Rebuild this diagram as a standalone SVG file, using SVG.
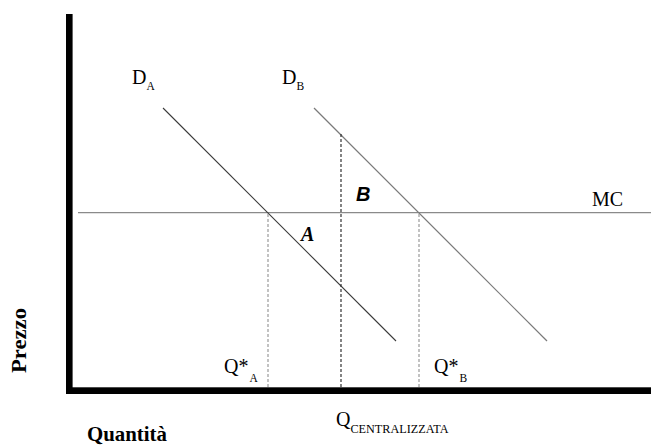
<svg xmlns="http://www.w3.org/2000/svg" width="651" height="446" viewBox="0 0 651 446">
<style>
.axis{fill:#000}
.mc{stroke:#8a8a8a;stroke-width:1.2;fill:none}
.dA{stroke:#3a3a3a;stroke-width:1.1;fill:none}
.dB{stroke:#7a7a7a;stroke-width:1.2;fill:none}
.dashL{stroke:#9a9a9a;stroke-width:1.2;stroke-dasharray:3,2;fill:none}
.dashD{stroke:#333;stroke-width:1.2;stroke-dasharray:3,2;fill:none}
.t{font-family:"Liberation Serif",serif;fill:#000}
.lab{font-size:20px}
.sub{font-size:11.5px}
.bold{font-weight:bold}
</style>
<g id="axes">
<rect class="axis" x="66" y="14" width="6.6" height="380"/>
<rect class="axis" x="67" y="387.3" width="584" height="6.7"/>
</g>
<g id="connectors">
<line class="mc" x1="78" y1="212.7" x2="651" y2="212.7"/>
<line class="dA" x1="163" y1="108" x2="396" y2="341"/>
<line class="dB" x1="314" y1="108" x2="547" y2="341"/>
<line class="dashL" x1="268" y1="214" x2="268" y2="387"/>
<line class="dashL" x1="419" y1="214" x2="419" y2="387"/>
<line class="dashD" x1="341" y1="134" x2="341" y2="387"/>
</g>
<g id="DA"><text class="t lab" x="132" y="84">D<tspan class="sub" dy="6">A</tspan></text></g>
<g id="DB"><text class="t lab" x="282" y="84">D<tspan class="sub" dy="6">B</tspan></text></g>
<g id="MC"><text class="t lab" x="592" y="206">MC</text></g>
<g id="areaB"><text x="356" y="201" style="font-family:'Liberation Sans',sans-serif;font-weight:bold;font-style:italic;font-size:20px">B</text></g>
<g id="areaA"><text class="t" x="301" y="241" style="font-weight:bold;font-style:italic;font-size:20px">A</text></g>
<g id="QA"><text class="t lab" x="224" y="373">Q*<tspan class="sub" dy="9" dx="1">A</tspan></text></g>
<g id="QB"><text class="t lab" x="434" y="373">Q*<tspan class="sub" dy="9" dx="1">B</tspan></text></g>
<g id="QC"><text class="t lab" x="336" y="426">Q<tspan style="font-size:12px" dy="7" textLength="98" lengthAdjust="spacingAndGlyphs">CENTRALIZZATA</tspan></text></g>
<g id="Prezzo"><text class="t bold" transform="translate(25.5,373) rotate(-90)" x="0" y="0" style="font-size:21px" textLength="65" lengthAdjust="spacingAndGlyphs">Prezzo</text></g>
<g id="Quantita"><text class="t bold" x="87" y="441" style="font-size:21px" textLength="80" lengthAdjust="spacingAndGlyphs">Quantità</text></g>
</svg>
